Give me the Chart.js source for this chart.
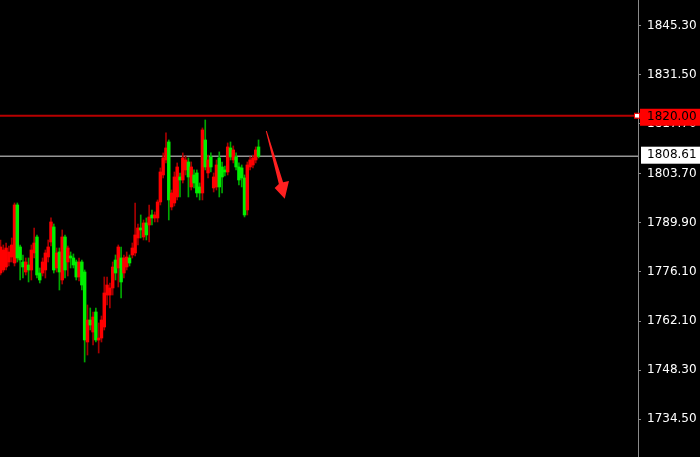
<!DOCTYPE html>
<html><head><meta charset="utf-8">
<script src="https://cdn.jsdelivr.net/npm/chart.js@4.4.1/dist/chart.umd.min.js"></script>
<style>html,body{margin:0;padding:0;background:#000;overflow:hidden}canvas{display:block}</style>
</head><body>
<canvas id="c" width="700" height="457"></canvas>
<script>
// OHLC values (red = rising, green = falling)
const opens = [1775.72,1776.57,1777.41,1778.82,1780.23,1778.54,1794.88,1783.05,1778.82,1776.00,
1777.98,1776.57,1781.36,1785.86,1775.72,1775.72,1776.57,1780.23,1784.45,1788.68,
1777.13,1781.64,1773.75,1785.86,1778.82,1780.51,1779.95,1778.82,1774.60,1778.82,
1776.00,1756.29,1762.48,1759.10,1764.74,1756.85,1757.41,1760.51,1769.52,1769.52,
1771.50,1779.38,1777.13,1779.95,1775.72,1777.41,1779.95,1780.79,1781.36,1785.58,
1788.40,1785.86,1789.81,1789.24,1792.06,1791.22,1791.22,1795.72,1803.33,1807.55,
1812.62,1794.31,1795.44,1797.13,1802.76,1801.92,1804.74,1806.99,1799.95,1803.33,
1803.89,1799.95,1798.26,1813.19,1803.89,1808.40,1799.67,1799.95,1808.12,1805.58,
1804.74,1804.17,1810.93,1807.55,1808.40,1805.58,1805.30,1802.48,1793.47,1805.58,
1806.14,1807.55,1811.22];
const highs = [1785.02,1783.61,1784.17,1783.33,1785.58,1795.44,1795.44,1783.61,1780.79,1779.95,
1779.95,1783.61,1788.40,1786.43,1777.13,1779.95,1782.20,1785.02,1791.22,1789.52,
1782.76,1782.76,1787.84,1786.43,1783.33,1781.64,1781.08,1779.38,1779.95,1779.38,
1776.57,1766.71,1765.86,1764.74,1765.86,1761.64,1763.61,1774.60,1774.60,1772.91,
1778.82,1780.79,1783.61,1783.05,1780.79,1781.64,1780.79,1784.17,1795.44,1789.52,
1792.06,1790.65,1791.22,1794.88,1793.47,1792.91,1796.29,1805.30,1809.53,1815.16,
1813.19,1799.10,1804.17,1806.71,1803.89,1809.53,1808.68,1808.12,1806.99,1804.74,
1804.74,1801.07,1816.57,1818.82,1808.96,1809.53,1803.89,1807.55,1809.81,1806.99,
1805.86,1812.34,1812.62,1811.50,1809.53,1806.71,1806.14,1803.33,1806.99,1808.40,
1808.96,1811.22,1813.19];
const lows = [1775.16,1776.00,1776.57,1777.70,1778.82,1777.70,1778.82,1773.75,1774.31,1775.16,
1773.19,1773.75,1779.95,1774.31,1772.91,1774.88,1774.31,1778.82,1783.33,1775.72,
1776.00,1770.93,1772.62,1774.31,1774.88,1777.13,1777.13,1773.75,1773.47,1770.93,
1750.65,1752.62,1759.67,1755.44,1756.29,1753.19,1756.29,1759.67,1766.71,1765.86,
1769.52,1773.75,1771.78,1768.68,1774.31,1776.57,1777.70,1779.95,1780.51,1783.61,
1785.58,1785.02,1785.02,1784.45,1789.24,1790.09,1790.09,1794.88,1802.48,1806.71,
1790.65,1793.47,1794.60,1796.29,1797.13,1801.07,1803.33,1797.13,1799.10,1799.67,
1797.13,1796.29,1796.29,1804.74,1802.48,1804.17,1798.54,1799.10,1797.13,1798.26,
1803.05,1803.33,1807.55,1806.71,1804.74,1800.51,1799.95,1791.50,1792.06,1804.74,
1805.30,1806.71,1808.12];
const closes = [1783.05,1782.20,1782.76,1781.64,1783.61,1794.88,1779.95,1779.38,1777.41,1778.82,
1776.57,1782.20,1784.17,1775.16,1773.75,1778.82,1781.36,1783.05,1790.09,1776.57,
1781.36,1776.00,1785.86,1776.57,1782.76,1779.95,1777.98,1774.60,1778.82,1772.34,
1756.85,1762.48,1761.07,1763.33,1756.85,1757.41,1762.48,1770.09,1772.34,1771.50,
1777.41,1775.72,1783.05,1773.19,1779.95,1780.23,1778.54,1782.76,1786.43,1788.40,
1787.84,1789.81,1786.43,1791.50,1791.22,1792.06,1795.72,1804.17,1808.12,1810.93,
1796.29,1798.26,1802.76,1805.58,1801.92,1808.12,1807.55,1802.76,1805.58,1801.07,
1798.26,1798.26,1816.00,1805.58,1807.55,1805.58,1802.76,1806.14,1799.95,1802.76,
1804.17,1811.22,1808.40,1810.37,1805.58,1801.92,1802.48,1792.06,1806.14,1807.55,
1808.12,1810.37,1808.61];

const yTicks = [1845.30, 1831.50, 1817.70, 1803.70, 1789.90, 1776.10, 1762.10, 1748.30, 1734.50];
const levelPrice = 1820.00;   // red horizontal level
const bidPrice = 1808.61;     // grey current-price line
// hand-drawn arrow outline, in (bar index, price) units
const arrowIdx   = [94.60, 94.95, 100.75, 102.85, 101.35, 97.75, 99.25];
const arrowPrice = [1815.72, 1815.72, 1801.30, 1801.64, 1796.60, 1799.67, 1800.79];

const X_MIN = -0.18, X_MAX = 227.3;
const Y_MIN = 1723.9, Y_MAX = 1852.6;

const UP_BODY = '#ff0000', DOWN_BODY = '#00f000';
const UP_WICK = '#a80000', DOWN_WICK = '#00a800';
const FONT = '12px "DejaVu Sans"';

const isUp = opens.map((o, i) => closes[i] >= o);
const bodyData = opens.map((o, i) => ({x: i, y: [Math.min(o, closes[i]), Math.max(o, closes[i])]}));
const wickData = highs.map((h, i) => ({x: i, y: [lows[i], h]}));

const overlay = {
  id: 'overlay',
  beforeDatasetsDraw(chart) {
    const {ctx, chartArea: a, scales: {y}} = chart;
    const yb = y.getPixelForValue(bidPrice);
    ctx.save();
    ctx.strokeStyle = '#969696';
    ctx.lineWidth = 1.5;
    ctx.beginPath(); ctx.moveTo(a.left, yb); ctx.lineTo(a.right, yb); ctx.stroke();
    ctx.restore();
  },
  afterDraw(chart) {
    const {ctx, chartArea: a, scales: {x, y}} = chart;
    ctx.save();
    const yl = y.getPixelForValue(levelPrice);
    ctx.strokeStyle = '#b80000';
    ctx.lineWidth = 2;
    ctx.beginPath(); ctx.moveTo(a.left, yl); ctx.lineTo(a.right, yl); ctx.stroke();
    ctx.fillStyle = '#ffffff';
    ctx.fillRect(a.right - 3, yl - 2, 4, 4);
    ctx.strokeStyle = '#ff0000'; ctx.lineWidth = 1;
    ctx.strokeRect(a.right - 3.5, yl - 2.5, 5, 5);
    ctx.font = FONT;
    ctx.textBaseline = 'middle';
    ctx.textAlign = 'left';
    ctx.fillStyle = '#ff0000';
    ctx.fillRect(a.right + 2, yl - 7, 62, 17);
    ctx.fillStyle = '#000000';
    ctx.fillText(levelPrice.toFixed(2), a.right + 9, yl + 1.5);
    const yb = y.getPixelForValue(bidPrice);
    ctx.fillStyle = '#ffffff';
    ctx.fillRect(a.right + 3, yb - 9.5, 62, 17);
    ctx.fillStyle = '#000000';
    ctx.fillText(bidPrice.toFixed(2), a.right + 9, yb - 1);
    ctx.fillStyle = '#ff2020';
    ctx.beginPath();
    arrowIdx.forEach((v, i) => {
      const px = x.getPixelForValue(v), py = y.getPixelForValue(arrowPrice[i]);
      if (i === 0) ctx.moveTo(px, py); else ctx.lineTo(px, py);
    });
    ctx.closePath(); ctx.fill();
    ctx.restore();
  }
};

new Chart(document.getElementById('c'), {
  type: 'bar',
  data: {
    datasets: [
      {
        label: 'body', data: bodyData, grouped: false, barThickness: 2.8,
        backgroundColor: isUp.map(u => u ? UP_BODY : DOWN_BODY), borderWidth: 0
      },
      {
        label: 'wick', data: wickData, grouped: false, barThickness: 1,
        backgroundColor: isUp.map(u => u ? UP_WICK : DOWN_WICK), borderWidth: 0
      }
    ]
  },
  options: {
    responsive: false,
    animation: false,
    events: [],
    layout: {padding: 0},
    plugins: {legend: {display: false}, tooltip: {enabled: false}},
    scales: {
      x: {type: 'linear', display: false, min: X_MIN, max: X_MAX, offset: false, grid: {offset: false}},
      y: {
        type: 'linear', position: 'right', min: Y_MIN, max: Y_MAX, beginAtZero: false,
        afterBuildTicks: s => { s.ticks = yTicks.map(v => ({value: v})); },
        afterFit: s => { s.width = 62; s.paddingTop = 0; s.paddingBottom = 0; },
        ticks: {
          color: '#ffffff', font: {family: 'DejaVu Sans', size: 12}, padding: 6, autoSkip: false,
          callback: v => Number(v).toFixed(2)
        },
        grid: {display: true, drawOnChartArea: false, drawTicks: true, tickLength: 3, color: '#8a8a8a'},
        border: {display: true, color: '#8a8a8a', width: 1}
      }
    }
  },
  plugins: [overlay]
});
</script>
</body></html>
